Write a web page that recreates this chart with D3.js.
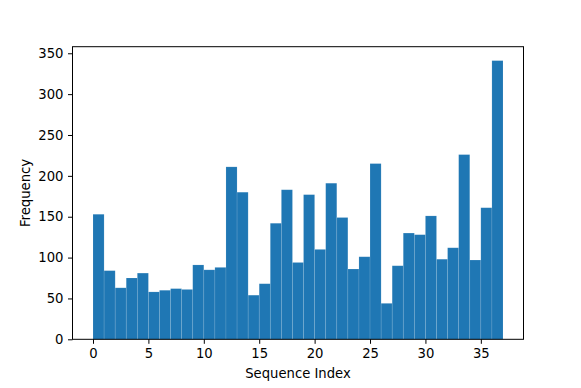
<!DOCTYPE html>
<html>
<head>
<meta charset="utf-8">
<script src="https://cdn.jsdelivr.net/npm/d3@7"></script>
<style>
  body { margin: 0; background: #fff; }
  svg text { font-family: "DejaVu Sans", sans-serif; fill: #000; }
</style>
</head>
<body>
<svg id="chart" width="581" height="388"></svg>
<script>
// Histogram counts, one bin per sequence index (0..36, width 1)
var binStarts = d3.range(0, 37);
var counts = [153, 84, 63, 75, 81, 58, 60, 62, 61, 91, 85, 88, 211, 180, 54, 68, 142, 183, 94,
              177, 110, 191, 149, 86, 101, 215, 44, 90, 130, 128, 151, 98, 112, 226, 97, 161, 341];
var xTicks = [0, 5, 10, 15, 20, 25, 30, 35];
var yTicks = [0, 50, 100, 150, 200, 250, 300, 350];

var svg = d3.select("#chart");
// plot area (note: "top" is reserved on window, so use other names)
var plotLeft = 72.5, plotRight = 523.5, plotTop = 46.7, plotBottom = 339.3;
var fontSize = "13.2px";

// matplotlib style margins: 5% on x, 5% above the tallest bar
var xMin = 0, xMax = 37, pad = (xMax - xMin) * 0.05;
var xScale = d3.scaleLinear()
    .domain([xMin - pad, xMax + pad])
    .range([plotLeft, plotRight]);

var yScale = d3.scaleLinear()
    .domain([0, d3.max(counts) * 1.05])
    .range([plotBottom, plotTop]);

// bars
svg.append("g")
    .selectAll("rect")
    .data(counts)
    .enter()
    .append("rect")
    .attr("x", function (d, i) { return xScale(binStarts[i]); })
    .attr("width", function (d, i) { return xScale(binStarts[i] + 1) - xScale(binStarts[i]); })
    .attr("y", function (d) { return yScale(d); })
    .attr("height", function (d) { return plotBottom - yScale(d); })
    .attr("fill", "#1f77b4")
    .attr("stroke", "rgba(255,255,255,0.15)")
    .attr("stroke-width", 0.7);

// axes
var xAxis = d3.axisBottom(xScale).tickValues(xTicks).tickSize(4.5).tickPadding(4.5);
var gx = svg.append("g")
    .attr("transform", "translate(0," + plotBottom + ")")
    .call(xAxis);
gx.select(".domain").remove();

var yAxis = d3.axisLeft(yScale).tickValues(yTicks).tickSize(4.5).tickPadding(4.5);
var gy = svg.append("g")
    .attr("transform", "translate(" + plotLeft + ",0)")
    .call(yAxis);
gy.select(".domain").remove();

svg.selectAll(".tick line").attr("stroke", "#000").attr("stroke-width", 1);
svg.selectAll(".tick text")
    .style("font-family", "DejaVu Sans, sans-serif")
    .style("font-size", fontSize)
    .attr("fill", "#000");

// frame
svg.append("rect")
    .attr("x", plotLeft)
    .attr("y", plotTop)
    .attr("width", plotRight - plotLeft)
    .attr("height", plotBottom - plotTop)
    .attr("fill", "none")
    .attr("stroke", "#000")
    .attr("stroke-width", 1);

// labels
svg.append("text")
    .attr("x", (plotLeft + plotRight) / 2)
    .attr("y", 378)
    .attr("text-anchor", "middle")
    .style("font-size", fontSize)
    .text("Sequence Index");

svg.append("text")
    .attr("transform", "translate(30," + ((plotTop + plotBottom) / 2) + ") rotate(-90)")
    .attr("text-anchor", "middle")
    .style("font-size", fontSize)
    .text("Frequency");
</script>
</body>
</html>
